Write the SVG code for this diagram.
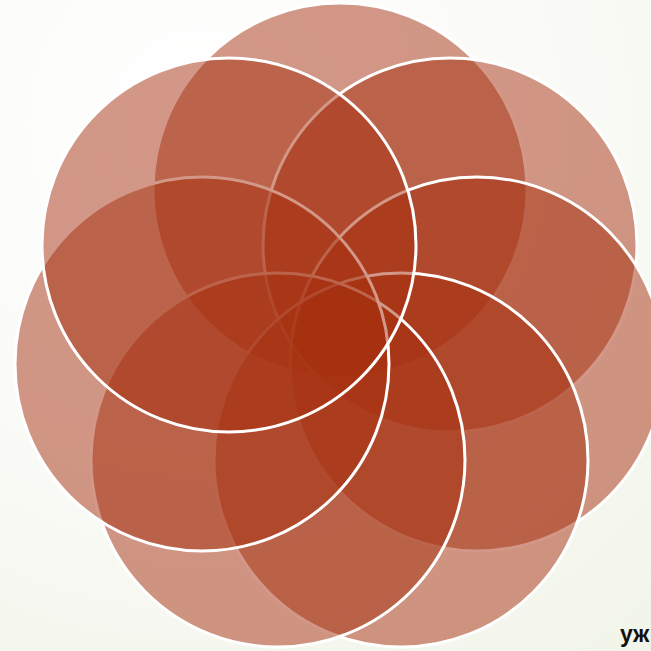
<svg xmlns="http://www.w3.org/2000/svg" width="651" height="651" viewBox="0 0 651 651">
<defs>
<radialGradient id="bg" cx="200" cy="120" r="700" gradientUnits="userSpaceOnUse">
<stop offset="0" stop-color="#ffffff"/>
<stop offset="0.5" stop-color="#fafbf7"/>
<stop offset="1" stop-color="#f1f4e8"/>
</radialGradient>
<style>
.c{fill:#a52f10;fill-opacity:0.5;stroke:#ffffff;stroke-width:3}
.t{font-family:"Liberation Sans",Arial,sans-serif;font-weight:bold;font-size:23px;fill:#111111}
</style>
</defs>
<rect width="651" height="651" fill="url(#bg)"/>
<g id="circles">
<g id="c-top"><circle class="c" cx="340" cy="190" r="187"/></g>
<g id="c-upper-right"><circle class="c" cx="450" cy="245" r="187"/></g>
<g id="c-right"><circle class="c" cx="477" cy="364" r="187"/></g>
<g id="c-bottom-right"><circle class="c" cx="401" cy="460" r="187"/></g>
<g id="c-bottom-left"><circle class="c" cx="278" cy="460" r="187"/></g>
<g id="c-left"><circle class="c" cx="202" cy="364" r="187"/></g>
<g id="c-upper-left"><circle class="c" cx="229" cy="245" r="187"/></g>
</g>
<text class="t" x="620" y="642">уж</text>
</svg>
